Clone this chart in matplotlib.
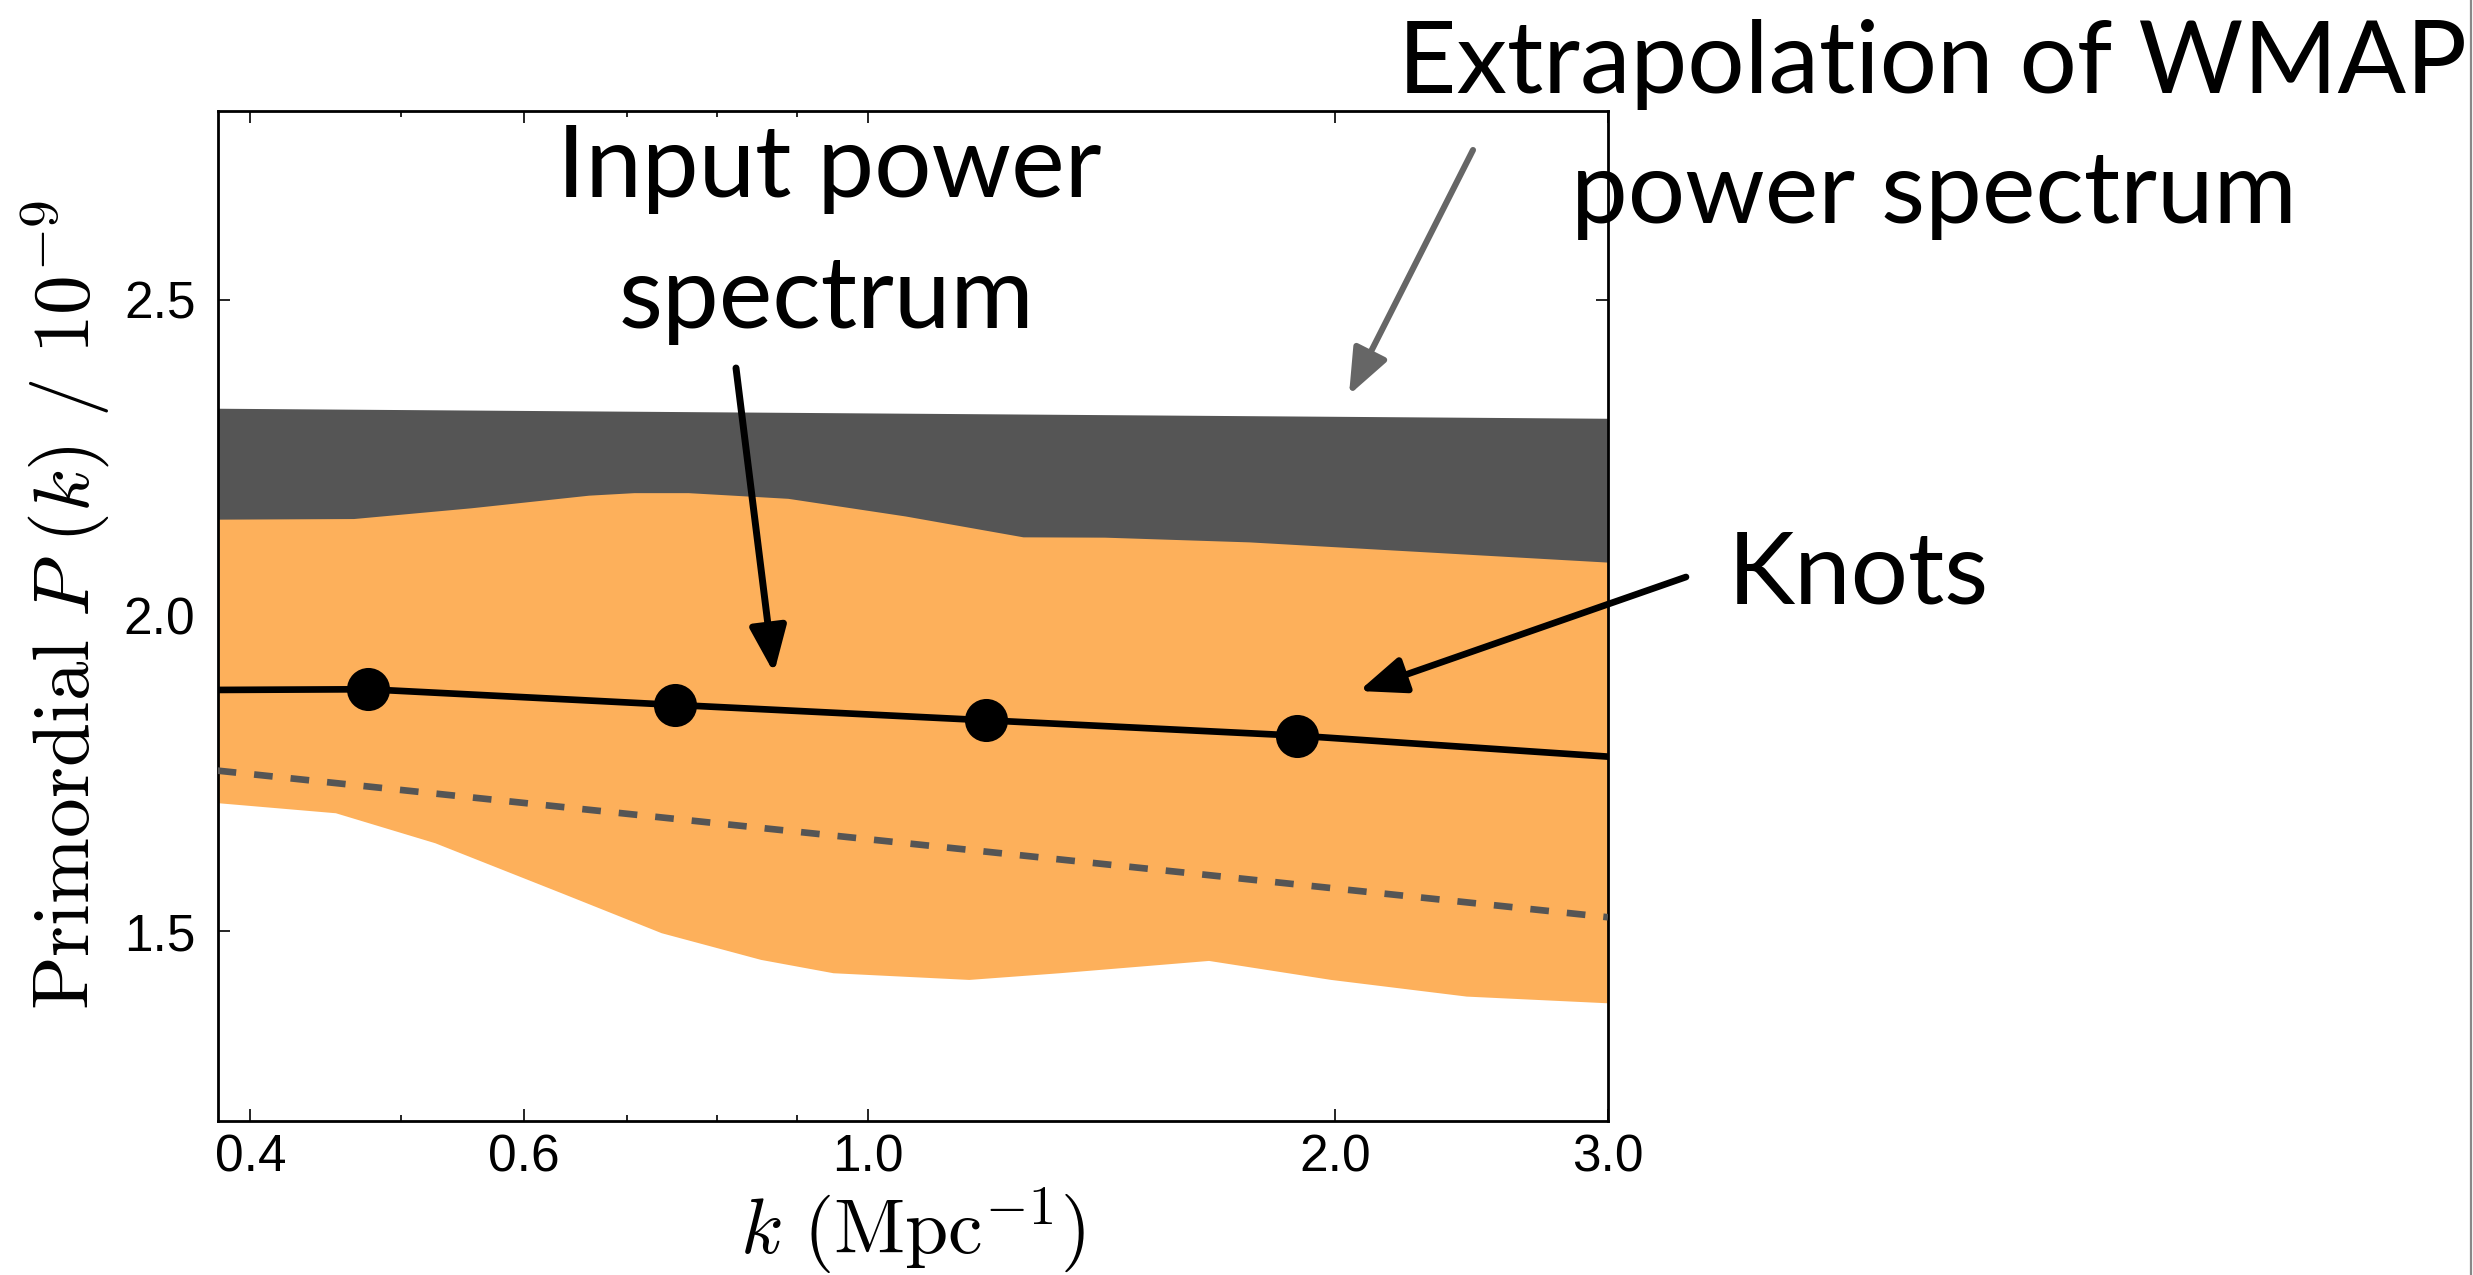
import numpy as np
import matplotlib
matplotlib.use("Agg")
import matplotlib.pyplot as plt
from matplotlib.patches import FancyArrowPatch
from matplotlib.lines import Line2D

##### fonts
plt.rcParams['font.family'] = ['Liberation Sans', 'DejaVu Sans']
plt.rcParams['mathtext.fontset'] = 'cm'

##### data
# orange band: upper and lower edge
k_band_up = [0.381, 0.4665, 0.5553, 0.6613, 0.7073, 0.7667, 0.8889, 1.0583, 1.26, 1.422, 1.763, 3.0]
p_band_up = [2.152, 2.153, 2.170, 2.190, 2.194, 2.194, 2.185, 2.157, 2.124, 2.1235, 2.116, 2.084]
k_band_lo = [0.381, 0.4541, 0.5263, 0.6353, 0.7365, 0.8537, 0.9504, 1.1626, 1.3297, 1.6595, 1.9895, 2.4327, 3.0]
p_band_lo = [1.703, 1.687, 1.6395, 1.560, 1.497, 1.4547, 1.4336, 1.423, 1.4336, 1.4531, 1.423, 1.3966, 1.386]

# dark grey WMAP extrapolation band (its lower part sits under the orange band)
k_wmap = [0.381, 3.0]
p_wmap_hi = [2.3285, 2.3126]
p_wmap_lo = [2.0, 2.0]

# input power spectrum and knots
k_input = [0.381, 0.4761, 0.7513, 1.191, 1.8904, 3.0]
p_input = [1.8823, 1.8834, 1.8586, 1.8343, 1.810, 1.7767]
k_knots = [0.4761, 0.7513, 1.191, 1.8904]
p_knots = [1.8834, 1.8586, 1.8343, 1.810]

# dashed line
k_dash = [0.381, 3.0]
p_dash = [1.7545, 1.5223]

xticks = [0.4, 0.6, 1.0, 2.0, 3.0]
xticklabels = ['0.4', '0.6', '1.0', '2.0', '3.0']
xminor = [0.5, 0.7, 0.8, 0.9]
yticks = [1.5, 2.0, 2.5]
yticklabels = ['1.5', '2.0', '2.5']

orange = '#fdb05b'
dark = '#555555'

##### plot
W, H = 2473, 1275
fig = plt.figure(figsize=(W / 200, H / 200), dpi=200)
ax = fig.add_axes([0.0880, 0.1210, 0.6502 - 0.0880, 0.9133 - 0.1210])

ax.fill_between(k_wmap, p_wmap_lo, p_wmap_hi, color=dark, lw=0, zorder=1)
ax.fill(np.r_[k_band_up, k_band_lo[::-1]], np.r_[p_band_up, p_band_lo[::-1]],
        color=orange, lw=0, zorder=2)
ax.plot(k_dash, p_dash, color=dark, lw=2.4, dashes=(2.8, 2.7), zorder=3)
ax.plot(k_input, p_input, color='k', lw=2.4, zorder=3)
ax.plot(k_knots, p_knots, 'o', color='k', ms=14.5, zorder=4)

ax.set_xscale('log')
ax.set_xlim(0.381, 3.0)
ax.set_ylim(1.2, 2.8)
ax.set_xticks(xticks)
ax.set_xticklabels(xticklabels)
ax.set_xticks(xminor, minor=True)
ax.set_xticklabels([], minor=True)
ax.set_yticks(yticks)
ax.set_yticklabels(yticklabels)
ax.tick_params(which='both', direction='in', top=True, right=True, width=0.6)
ax.tick_params(which='major', length=4.4, labelsize=18.5)
ax.tick_params(which='minor', length=2.2)
ax.tick_params(axis='x', pad=4.5)
ax.tick_params(axis='y', pad=8)
for s in ax.spines.values():
    s.set_linewidth(1.0)

ax.set_xlabel(r'$k\ (\mathrm{Mpc}^{-1})$', fontsize=28)
ax.set_ylabel(r'$\mathrm{Primordial}\ P\ (k)\ /\ 10^{-9}$', fontsize=28.5)
ax.xaxis.set_label_coords(0.5, -0.064)
ax.yaxis.set_label_coords(-0.077, 0.51)

##### annotations (figure pixels -> figure fraction)
def fx(x):
    return x / W

def fy(y):
    return 1 - y / H

tfont = dict(family=['Lato', 'DejaVu Sans'], size=36.5, va='baseline', ha='center')
fig.text(fx(829), fy(197), 'Input power', **tfont)
fig.text(fx(826), fy(328), 'spectrum', **tfont)
fig.text(fx(1933), fy(93), 'Extrapolation of WMAP', **tfont)
fig.text(fx(1934), fy(223), 'power spectrum', **tfont)
fig.text(fx(1858), fy(603), 'Knots', **tfont)

arrows = [((736, 368), (774, 673), 'k', 2.5),
          ((1473, 150), (1349, 395), '#666666', 2.2),
          ((1686, 577), (1359, 691), 'k', 2.4)]
for (x0, y0), (x1, y1), c, lw in arrows:
    fig.add_artist(FancyArrowPatch((fx(x0), fy(y0)), (fx(x1), fy(y1)),
                                   transform=fig.transFigure,
                                   arrowstyle='-|>,head_length=0.7,head_width=0.28',
                                   mutation_scale=20, color=c, lw=lw,
                                   shrinkA=0, shrinkB=0, zorder=5))

fig.add_artist(Line2D([fx(2471), fx(2471)], [0, 1], color='#888888', lw=0.8,
                      transform=fig.transFigure))

fig.savefig('out.png', dpi=200)
